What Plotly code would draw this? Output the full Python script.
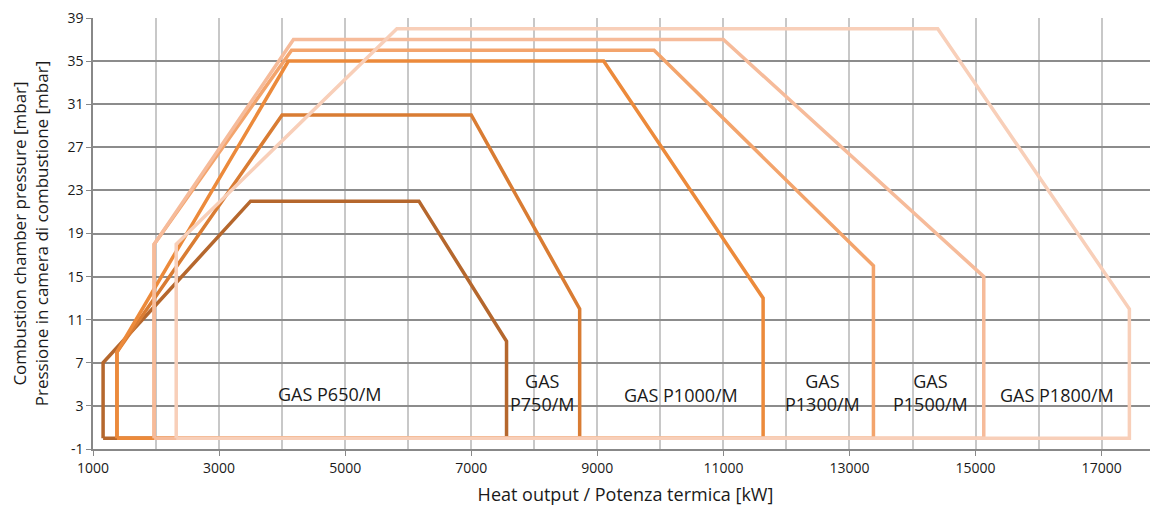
import plotly.graph_objects as go

# Data (x: heat output kW, y: combustion chamber pressure mbar)
names = ["GAS P650/M", "GAS P750/M", "GAS P1000/M", "GAS P1300/M", "GAS P1500/M", "GAS P1800/M"]
p650_x = [1160, 1160, 3500, 6170, 7560, 7560, 1160]
p650_y = [0, 7, 22, 22, 9, 0, 0]
p750_x = [1380, 1380, 4000, 7000, 8720, 8720, 1380]
p750_y = [0, 8, 30, 30, 12, 0, 0]
p1000_x = [1380, 1380, 4100, 9100, 11630, 11630, 1380]
p1000_y = [0, 8, 35, 35, 13, 0, 0]
p1300_x = [1970, 1970, 4150, 9900, 13380, 13380, 1970]
p1300_y = [0, 18, 36, 36, 16, 0, 0]
p1500_x = [1970, 1970, 4180, 11000, 15130, 15130, 1970]
p1500_y = [0, 18, 37, 37, 15, 0, 0]
p1800_x = [2320, 2320, 5820, 14400, 17440, 17440, 2320]
p1800_y = [0, 18, 38, 38, 12, 0, 0]
colors = ["#b5672d", "#d97c33", "#ec8a3b", "#f3a46c", "#f6bb9a", "#f8cfb9"]

label_text = ["GAS P650/M", "GAS<br>P750/M", "GAS P1000/M", "GAS<br>P1300/M", "GAS<br>P1500/M", "GAS P1800/M"]
label_x = [4760, 8130, 10320, 12570, 14280, 16290]
label_y = [4.1, 4.2, 4.0, 4.2, 4.2, 4.0]

x_tickvals = [1000, 3000, 5000, 7000, 9000, 11000, 13000, 15000, 17000]
x_ticktext = ["1000", "3000", "5000", "7000", "9000", "11000", "13000", "15000", "17000"]
y_tickvals = [-1, 3, 7, 11, 15, 19, 23, 27, 31, 35, 39]
y_ticktext = ["-1", "3", "7", "11", "15", "19", "23", "27", "31", "35", "39"]

xs = [p650_x, p750_x, p1000_x, p1300_x, p1500_x, p1800_x]
ys = [p650_y, p750_y, p1000_y, p1300_y, p1500_y, p1800_y]

fig = go.Figure()
for n, x, y, c in zip(names, xs, ys, colors):
    fig.add_trace(go.Scatter(x=x, y=y, mode="lines", name=n,
                             line=dict(color=c, width=3.5), hoverinfo="skip"))

for t, x, y in zip(label_text, label_x, label_y):
    fig.add_annotation(x=x, y=y, text=t, showarrow=False,
                       font=dict(size=18, color="#1a1a1a", family="Open Sans"))

font_family = "Open Sans"
fig.update_layout(
    width=1150, height=499,
    margin=dict(l=85, r=0, t=10, b=58),
    plot_bgcolor="white", paper_bgcolor="white",
    showlegend=False,
    font=dict(family=font_family, color="#1a1a1a"),
    xaxis=dict(
        range=[1000, 17894], tickvals=x_tickvals, ticktext=x_ticktext,
        showgrid=True, gridcolor="#c8c8c8", gridwidth=1.5,
        minor=dict(dtick=1000, tick0=1000, showgrid=True, gridcolor="#c8c8c8", gridwidth=1.5),
        showline=True, linecolor="#888888", linewidth=1.5,
        ticks="outside", ticklen=5, tickcolor="#888888",
        tickfont=dict(size=14), zeroline=False, automargin=False,
        ticklabeloverflow="allow",
        title=dict(text="Heat output / Potenza termica [kW]", font=dict(size=18), standoff=13),
    ),
    yaxis=dict(
        range=[-1, 39], tickvals=y_tickvals, ticktext=y_ticktext,
        showgrid=True, gridcolor="#8c8c8c", gridwidth=1.5,
        showline=True, linecolor="#888888", linewidth=1.5,
        ticks="outside", ticklen=5, tickcolor="#888888",
        tickfont=dict(size=14), zeroline=False, automargin=False,
        ticklabeloverflow="allow",
        title=dict(text="Combustion chamber pressure [mbar]<br>Pressione in camera di combustione [mbar]",
                   font=dict(size=17), standoff=17),
    ),
)

fig.write_html("out.html")
